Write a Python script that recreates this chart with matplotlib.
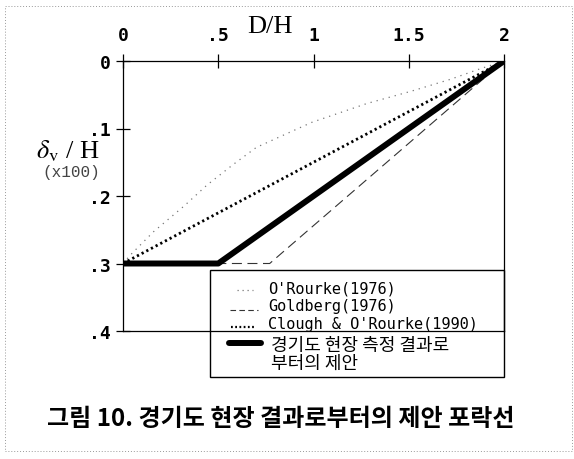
import matplotlib
matplotlib.use("Agg")
import matplotlib.pyplot as plt
from matplotlib.patches import Rectangle
from matplotlib.lines import Line2D

plt.rcParams['mathtext.fontset'] = 'stix'

# Envelope curves: settlement ratio (x100) versus distance ratio D/H
orourke_x = [0.0, 0.04, 0.16, 0.32, 0.44, 0.58, 0.70, 0.99, 1.28, 1.51, 1.72, 1.87, 2.0]
orourke_y = [0.30, 0.287, 0.253, 0.215, 0.184, 0.153, 0.128, 0.091, 0.063, 0.045, 0.027, 0.012, 0.0]
goldberg_x = [0.0, 0.77, 2.0]
goldberg_y = [0.30, 0.30, 0.0]
clough_x = [0.0, 2.0]
clough_y = [0.30, 0.0]
proposed_x = [0.0, 0.5, 2.0]
proposed_y = [0.30, 0.30, 0.0]

x_ticks = [0, 0.5, 1, 1.5, 2]
x_ticklabels = ['0', '.5', '1', '1.5', '2']
y_ticks = [0, 0.1, 0.2, 0.3, 0.4]
y_ticklabels = ['0', '.1', '.2', '.3', '.4']

legend_labels = ["O'Rourke(1976)", "Goldberg(1976)", "Clough & O'Rourke(1990)"]
proposed_label = ["경기도 현장 측정 결과로", "부터의 제안"]
caption = "그림 10. 경기도 현장 결과로부터의 제안 포락선"

W, H = 574, 460
fig = plt.figure(figsize=(W / 100, H / 100), dpi=100)

# axes box in pixel terms
L, R, T, B = 123, 504, 62, 332
ax = fig.add_axes([L / W, 1 - B / H, (R - L) / W, (B - T) / H])
ax.set_xlim(0, 2)
ax.set_ylim(0.4, 0)

def px(xp, yp):
    """pixel position -> axes fraction"""
    return (xp - L) / (R - L), 1 - (yp - T) / (B - T)

ax.plot(orourke_x, orourke_y, color='#777777', lw=0.9, ls=(0, (1, 4)))
ax.plot(goldberg_x, goldberg_y, color='#333333', lw=0.8, ls=(0, (9, 5)))
ax.plot(clough_x, clough_y, color='black', lw=2.0, ls=(0, (0.8, 1.1)))
ax.plot(proposed_x, proposed_y, color='black', lw=4.3, solid_capstyle='butt')

tick_font = dict(family='DejaVu Sans Mono', weight='bold', size=13)
ax.xaxis.tick_top()
ax.set_xticks(x_ticks)
ax.set_xticklabels(x_ticklabels, fontdict=tick_font)
ax.set_yticks(y_ticks)
ax.set_yticklabels(y_ticklabels, fontdict=tick_font)
ax.tick_params(axis='both', direction='inout', length=10, width=0.9, pad=5)
ax.tick_params(axis='x', top=True, bottom=False, pad=7)
ax.tick_params(axis='y', pad=4)
for s in ax.spines.values():
    s.set_linewidth(0.9)
    s.set_zorder(8)

# axis titles
fig.text(270 / W, 1 - 27 / H, 'D/H', family='Liberation Serif', size=19,
         ha='center', va='center')
fig.text(68 / W, 1 - 151 / H, r'$\delta_{\mathrm{v}}$ / H', family='Liberation Serif',
         size=19, ha='center', va='center')
fig.text(71 / W, 1 - 173 / H, '(x100)', family='Liberation Mono', size=11.5,
         color='#444444', ha='center', va='center')

# legend box (the axes' bottom spine runs through it as a divider)
x0, y0 = px(210, 378)
x1, y1 = px(504, 271)
ax.add_patch(Rectangle((x0, y0), x1 - x0, y1 - y0, transform=ax.transAxes,
                       facecolor='white', edgecolor='black', lw=1.0,
                       zorder=5, clip_on=False))

styles = [dict(color='#777777', lw=0.9, ls=(0, (1, 3))),
          dict(color='#333333', lw=0.8, ls=(0, (5, 3))),
          dict(color='black', lw=1.6, ls=(0, (0.8, 1.1)))]
handle_x = [(237, 253), (230, 258), (231, 255)]
handle_y = [291, 311, 328]
text_y = [289, 307, 325]
tx, _ = px(268, 0)
leg_font = dict(family='DejaVu Sans Mono', size=11)
for lab, st, (hx0p, hx1p), hy, ty in zip(legend_labels, styles, handle_x, handle_y, text_y):
    hx0, yy = px(hx0p, hy)
    hx1, _ = px(hx1p, hy)
    ax.add_line(Line2D([hx0, hx1], [yy, yy], transform=ax.transAxes,
                       zorder=7, clip_on=False, **st))
    _, yt = px(0, ty)
    ax.text(tx, yt, lab, transform=ax.transAxes, va='center', ha='left',
            zorder=7, **leg_font)

hx0, yy = px(229, 344)
hx1, _ = px(261, 344)
ax.add_line(Line2D([hx0, hx1], [yy, yy], transform=ax.transAxes, color='black',
                   lw=4.3, solid_capstyle='round', zorder=7, clip_on=False))
kx, ky = px(271, 355)
kr_font = dict(family=['Noto Sans CJK KR', 'DejaVu Sans'], size=13, weight='medium')
ax.text(kx, ky, "\n".join(proposed_label), transform=ax.transAxes, va='center',
        ha='left', linespacing=0.95, zorder=7, **kr_font)

# caption
fig.text(281 / W, 1 - 419 / H, caption, family=['Noto Sans CJK KR', 'DejaVu Sans'],
         weight='bold', size=17.3, ha='center', va='center')

# dotted page frame
fig.patches.append(Rectangle((5 / W, 1 - 452 / H), 567 / W, 445 / H,
                             transform=fig.transFigure, fill=False,
                             edgecolor='#999999', lw=0.7, ls=(0, (1, 2))))

fig.savefig('out.png', dpi=100)
